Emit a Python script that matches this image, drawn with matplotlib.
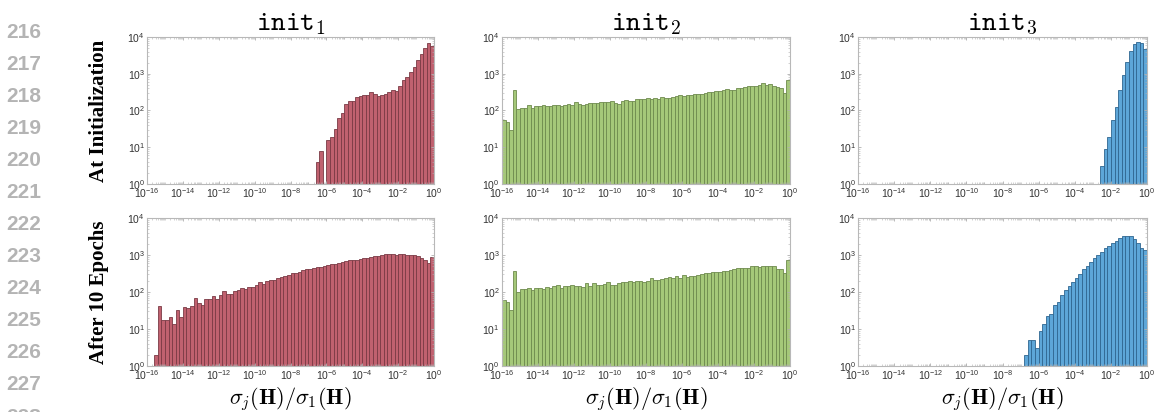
import numpy as np
import matplotlib
matplotlib.use('Agg')
import matplotlib.pyplot as plt
from matplotlib.ticker import FuncFormatter, LogLocator, NullFormatter

plt.rcParams['font.family'] = ['Liberation Sans', 'DejaVu Sans']
plt.rcParams['mathtext.fontset'] = 'cm'

# histogram bins: 80 log-spaced bins from 1e-16 to 1e0
bin_edges = np.logspace(-16, 0, 81)

# counts per bin
init1_start = [0] * 47 + [4, 8, 0,
    16, 19, 32, 63, 85, 148, 182, 178, 229, 251,
    269, 269, 309, 275, 245, 257, 288, 324, 355, 331,
    468, 661, 794, 1096, 1549, 2344, 3467, 5129, 7079, 5754]

init2_start = [56, 50, 30, 355, 112, 117, 120, 141, 115, 135,
    129, 141, 129, 129, 138, 141, 135, 145, 148, 141,
    174, 148, 138, 155, 158, 162, 158, 166, 166, 166,
    178, 158, 155, 186, 191, 178, 186, 204, 209, 200,
    214, 204, 214, 204, 240, 214, 224, 240, 251, 257,
    251, 263, 263, 275, 282, 282, 302, 309, 316, 331,
    331, 355, 380, 372, 372, 417, 417, 447, 457, 468,
    468, 479, 550, 501, 513, 468, 447, 398, 295, 676]

init3_start = [0] * 67 + [3, 9, 19, 55, 126, 363, 912, 2089, 4266, 6457,
    7413, 7079, 4571]

init1_trained = [0, 0, 2, 41, 17, 17, 21, 14, 32, 21, 39, 38,
    42, 69, 50, 45, 65, 65, 78, 63, 83, 105,
    89, 89, 107, 115, 126, 123, 138, 138, 158, 186,
    166, 195, 209, 209, 234, 257, 269, 282, 316, 331,
    355, 389, 417, 417, 447, 479, 479, 501, 525, 562,
    562, 589, 631, 676, 724, 724, 741, 794, 813, 851,
    891, 955, 955, 977, 1047, 1047, 1096, 1023, 1096, 1072,
    1023, 1023, 1023, 912, 832, 724, 589, 871]

init2_trained = [59, 54, 33, 372, 98, 117, 120, 129, 112, 129,
    126, 117, 138, 129, 141, 151, 126, 141, 145, 151,
    145, 145, 135, 174, 145, 174, 155, 158, 162, 191,
    151, 158, 178, 186, 182, 195, 182, 204, 204, 182,
    200, 234, 209, 209, 224, 240, 251, 234, 269, 234,
    282, 257, 269, 269, 295, 302, 331, 331, 339, 355,
    355, 363, 372, 389, 427, 437, 437, 437, 457, 501,
    501, 479, 501, 501, 501, 501, 417, 427, 331, 724]

init3_trained = [0] * 46 + [2, 5, 5, 3, 9, 14, 22, 25, 45, 54,
    85, 110, 145, 182, 240, 302, 417, 513, 661, 832,
    1000, 1230, 1549, 1778, 2089, 2455, 2818, 3162, 3236, 3236,
    2630, 2089, 1549, 1349]

titles = [r'$\mathtt{init}_{1}$', r'$\mathtt{init}_{2}$', r'$\mathtt{init}_{3}$']
row_labels = ['At Initialization', 'After 10 Epochs']
x_label = r'$\sigma_j(\mathbf{H})/\sigma_1(\mathbf{H})$'
line_numbers = list(range(216, 229))

face_colors = ['#C0616F', '#A5C879', '#5DA6D8']
edge_colors = ['#7A3A45', '#6E8A4E', '#2F6690']

rows = [[init1_start, init2_start, init3_start],
        [init1_trained, init2_trained, init3_trained]]

fig = plt.figure(figsize=(11.55, 4.12), dpi=100)

lefts = [0.1273, 0.4346, 0.7429]
widths = [0.2485, 0.2494, 0.2502]
bottoms = [0.5534, 0.1117]
heights = [0.3568, 0.3592]

lo = bin_edges[:-1]
bw = np.diff(bin_edges)

def log_fmt(v, pos):
    return r'$\mathregular{10^{%d}}$' % int(round(np.log10(v)))

for r in range(2):
    for c in range(3):
        ax = fig.add_axes([lefts[c], bottoms[r], widths[c], heights[r]])
        counts = np.array(rows[r][c], dtype=float)
        m = counts > 0
        ax.bar(lo[m], counts[m] - 1, width=bw[m], align='edge', bottom=1,
               color=face_colors[c], edgecolor=edge_colors[c], linewidth=0.6)
        ax.set_xscale('log')
        ax.set_yscale('log')
        ax.set_xlim(1e-16, 1e0)
        ax.set_ylim(1, 1e4)
        ax.set_xticks([10.0 ** k for k in range(-16, 1, 2)])
        ax.xaxis.set_minor_locator(LogLocator(base=10, subs=np.arange(1, 10), numticks=30))
        ax.xaxis.set_minor_formatter(NullFormatter())
        ax.yaxis.set_major_locator(LogLocator(base=10, numticks=10))
        ax.yaxis.set_minor_locator(LogLocator(base=10, subs=np.arange(2, 10), numticks=10))
        ax.yaxis.set_minor_formatter(NullFormatter())
        ax.xaxis.set_major_formatter(FuncFormatter(log_fmt))
        ax.yaxis.set_major_formatter(FuncFormatter(log_fmt))
        ax.tick_params(which='both', direction='in', top=True, right=True,
                       color='#B0B0B0', labelcolor='#333333', labelsize=7.5)
        ax.tick_params(which='major', length=2.5, width=0.6, pad=1.5)
        ax.tick_params(which='minor', length=1.3, width=0.4)
        for s in ax.spines.values():
            s.set_color('#B8B8B8')
            s.set_linewidth(0.8)
        if r == 0:
            ax.set_title(titles[c], fontsize=20, pad=5)
        else:
            ax.set_xlabel(x_label, fontsize=16, labelpad=2)

fig.text(0.086, 0.5534 + 0.3568 / 2, row_labels[0], rotation=90, ha='center',
         va='center', fontsize=15, fontweight='bold', family='Liberation Serif')
fig.text(0.086, 0.1117 + 0.3592 / 2, row_labels[1], rotation=90, ha='center',
         va='center', fontsize=15, fontweight='bold', family='Liberation Serif')

for k, n in enumerate(line_numbers):
    fig.text(0.005, 1 - (33 + 32 * k) / 412, str(n), ha='left', va='center',
             fontsize=15, fontweight='bold', color='#B4B4B4')

fig.savefig('out.png', dpi=100)
